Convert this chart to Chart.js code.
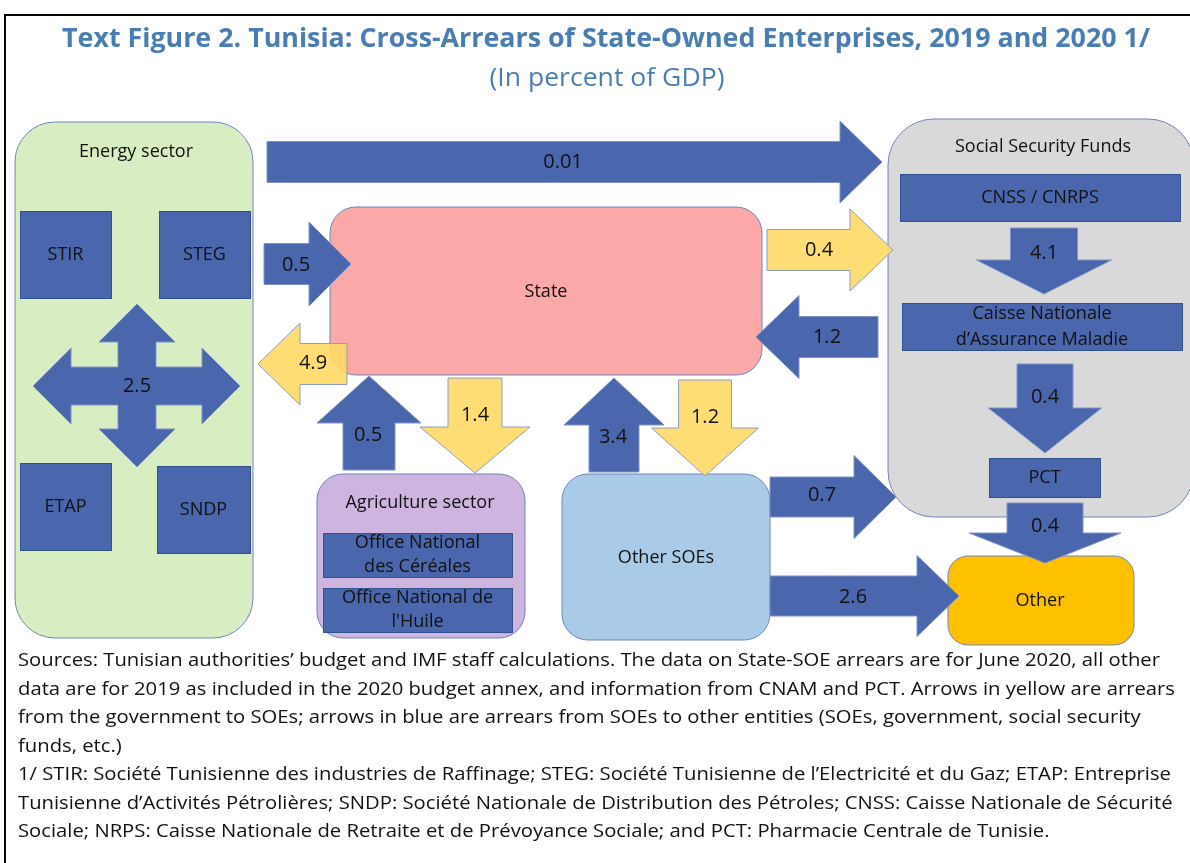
<!DOCTYPE html>
<html>
<head>
<meta charset="utf-8">
<script src="https://cdn.jsdelivr.net/npm/chart.js@4.4.1/dist/chart.umd.min.js"></script>
<style>
  html, body { margin: 0; padding: 0; background: #fff; }
  #wrap { width: 1190px; height: 863px; }
</style>
</head>
<body>
<div id="wrap"><canvas id="flowChart" width="1190" height="863"></canvas></div>
<script>
// ---- data ----
const chartTitle = 'Text Figure 2. Tunisia: Cross-Arrears of State-Owned Enterprises, 2019 and 2020 1/';
const chartSubtitle = '(In percent of GDP)';

const groupNames = ['Energy sector', 'State', 'Social Security Funds', 'Agriculture sector', 'Other SOEs', 'Other'];
const entityNames = ['STIR', 'STEG', 'ETAP', 'SNDP', 'CNSS / CNRPS', 'Caisse Nationale\nd’Assurance Maladie', 'PCT',
    'Office National\ndes Céréales', 'Office National de\nl\'Huile'];

// flows (arrears), in percent of GDP
const flowNames = ['Energy → Social Security', 'Energy → State', 'State → Social Security', 'State → Energy',
    'Social Security → State', 'Agriculture → State', 'State → Agriculture', 'Other SOEs → State',
    'State → Other SOEs', 'Other SOEs → Social Security', 'Other SOEs → Other', 'CNSS/CNRPS → CNAM',
    'CNAM → PCT', 'PCT → Other', 'Within energy sector'];
const flowValues = ['0.01', '0.5', '0.4', '4.9', '1.2', '0.5', '1.4', '3.4', '1.2', '0.7', '2.6', '4.1', '0.4', '0.4', '2.5'];
const flowPayer = ['soe', 'soe', 'gov', 'gov', 'soe', 'soe', 'gov', 'soe', 'gov', 'soe', 'soe', 'soe', 'soe', 'soe', 'soe'];

const noteLines = [
    'Sources: Tunisian authorities’ budget and IMF staff calculations. The data on State-SOE arrears are for June 2020, all other',
    'data are for 2019 as included in the 2020 budget annex, and information from CNAM and PCT. Arrows in yellow are arrears',
    'from the government to SOEs; arrows in blue are arrears from SOEs to other entities (SOEs, government, social security',
    'funds, etc.)',
    '1/ STIR: Société Tunisienne des industries de Raffinage; STEG: Société Tunisienne de l’Electricité et du Gaz; ETAP: Entreprise',
    'Tunisienne d’Activités Pétrolières; SNDP: Société Nationale de Distribution des Pétroles; CNSS: Caisse Nationale de Sécurité',
    'Sociale; NRPS: Caisse Nationale de Retraite et de Prévoyance Sociale; and PCT: Pharmacie Centrale de Tunisie.'
];

// ---- layout (diagram units = pixels of the original figure) ----
const groupBoxes = [
    { x0: 15, y0: 122, x1: 253, y1: 638, r: 40, fill: '#d9edc3', lx: 136, ly: 152 },
    { x0: 330, y0: 207, x1: 762, y1: 375, r: 26, fill: '#faa8a8', lx: 546, ly: 292 },
    { x0: 888, y0: 119, x1: 1194, y1: 517, r: 46, fill: '#d9d9d9', lx: 1043, ly: 147 },
    { x0: 317, y0: 474, x1: 525, y1: 638, r: 26, fill: '#cdb5df', lx: 420, ly: 503 },
    { x0: 562, y0: 474, x1: 770, y1: 640, r: 26, fill: '#a9cbe8', lx: 666, ly: 558 },
    { x0: 948, y0: 556, x1: 1134, y1: 645, r: 20, fill: '#ffc000', lx: 1040, ly: 601 }
];
const entityBoxes = [
    { x0: 20, y0: 211, x1: 111, y1: 298 },
    { x0: 159, y0: 211, x1: 250, y1: 298 },
    { x0: 20, y0: 463, x1: 111, y1: 550 },
    { x0: 157, y0: 466, x1: 250, y1: 553 },
    { x0: 900, y0: 174, x1: 1180, y1: 221 },
    { x0: 902, y0: 303, x1: 1182, y1: 350 },
    { x0: 989, y0: 458, x1: 1100, y1: 497 },
    { x0: 323, y0: 533, x1: 512, y1: 577 },
    { x0: 323, y0: 588, x1: 512, y1: 632 }
];
// tail -> tip, shaft half width, head half width, head length, label position
const arrowShapes = [
    { t: [267, 162], h: [882, 162], sw: 20.5, hw: 41, hl: 42, l: [563, 162] },
    { t: [264, 264], h: [351, 264], sw: 20.5, hw: 42, hl: 42, l: [296, 265] },
    { t: [767, 250], h: [893, 250], sw: 20.5, hw: 41, hl: 43, l: [819, 250] },
    { t: [347, 364], h: [258, 364], sw: 20.5, hw: 41, hl: 42, l: [313, 363] },
    { t: [878, 337], h: [756, 337], sw: 20.5, hw: 41.5, hl: 43, l: [827, 337] },
    { t: [369, 470], h: [369, 376], sw: 26, hw: 52, hl: 47, l: [368, 435] },
    { t: [475, 378], h: [475, 473], sw: 27, hw: 55, hl: 46, l: [475, 415] },
    { t: [614, 472], h: [614, 378], sw: 25, hw: 50, hl: 47, l: [613, 437] },
    { t: [705, 380], h: [705, 476], sw: 26.5, hw: 53.5, hl: 48, l: [705, 417] },
    { t: [770, 497], h: [896, 497], sw: 20, hw: 41.5, hl: 42, l: [822, 495] },
    { t: [770, 596], h: [959, 596], sw: 20, hw: 40.5, hl: 42, l: [853, 597] },
    { t: [1044, 228], h: [1044, 294], sw: 33.5, hw: 67.5, hl: 34, l: [1044, 253] },
    { t: [1045, 364], h: [1045, 453], sw: 28, hw: 56.5, hl: 45, l: [1045, 397] },
    { t: [1045, 503], h: [1045, 563], sw: 38, hw: 76, hl: 30, l: [1045, 526] },
    { cross: [137, 386], up: 82, down: 81, left: 104, right: 103, sw: 19, hw: 38, hl: 38, l: [137, 386] }
];
const noteLayout = { x: 18, y0: 661, step: 28.5, firstWidth: 1142 };

const colors = {
    soe: '#4a66ac', gov: '#ffd966', soeEdge: '#7f93c6', govEdge: '#8c9cc8',
    boxEdge: '#2f528f', groupEdge: '#7085b8', title: '#4a7db2', text: '#111'
};
const FONT = '"Open Sans", "DejaVu Sans", sans-serif';

// draw text with a horizontal scale factor
function scaledText(ctx, s, x, y, k, align) {
    ctx.save();
    ctx.translate(x, y);
    ctx.scale(k, 1);
    ctx.textAlign = align;
    ctx.fillText(s, 0, 0);
    ctx.restore();
}

function roundRect(ctx, x0, y0, x1, y1, r) {
    ctx.beginPath();
    ctx.moveTo(x0 + r, y0);
    ctx.arcTo(x1, y0, x1, y1, r);
    ctx.arcTo(x1, y1, x0, y1, r);
    ctx.arcTo(x0, y1, x0, y0, r);
    ctx.arcTo(x0, y0, x1, y0, r);
    ctx.closePath();
}

const diagramPlugin = {
    id: 'diagram',
    afterDatasetsDraw(chart) {
        const ctx = chart.ctx;
        const sx = chart.scales.x, sy = chart.scales.y;
        const px = v => sx.getPixelForValue(v);
        const py = v => sy.getPixelForValue(v);

        ctx.save();
        // frame
        ctx.strokeStyle = '#000';
        ctx.lineWidth = 2;
        ctx.strokeRect(px(5), py(15), px(1200) - px(5), py(875) - py(15));

        // titles
        ctx.fillStyle = colors.title;
        ctx.textBaseline = 'middle';
        ctx.font = 'bold 27px ' + FONT;
        scaledText(ctx, chartTitle, px(606), py(39), 1088 / ctx.measureText(chartTitle).width, 'center');
        ctx.font = '26px ' + FONT;
        scaledText(ctx, chartSubtitle, px(607), py(79), 235 / ctx.measureText(chartSubtitle).width, 'center');

        // group containers
        groupBoxes.forEach(b => {
            roundRect(ctx, px(b.x0), py(b.y0), px(b.x1), py(b.y1), b.r);
            ctx.fillStyle = b.fill;
            ctx.fill();
            ctx.strokeStyle = colors.groupEdge;
            ctx.lineWidth = 1;
            ctx.stroke();
        });

        // entities
        entityBoxes.forEach(b => {
            ctx.fillStyle = colors.soe;
            ctx.fillRect(px(b.x0), py(b.y0), px(b.x1) - px(b.x0), py(b.y1) - py(b.y0));
            ctx.strokeStyle = colors.boxEdge;
            ctx.lineWidth = 1;
            ctx.strokeRect(px(b.x0) + 0.5, py(b.y0) + 0.5, px(b.x1) - px(b.x0), py(b.y1) - py(b.y0));
        });

        // arrows
        arrowShapes.forEach((a, i) => {
            const pts = [];
            if (a.cross) {
                const [cx, cy] = a.cross, s = a.sw, w = a.hw, l = a.hl;
                const T = cy - a.up, B = cy + a.down, L = cx - a.left, R = cx + a.right;
                pts.push([cx, T], [cx + w, T + l], [cx + s, T + l], [cx + s, cy - s], [R - l, cy - s], [R - l, cy - w],
                    [R, cy], [R - l, cy + w], [R - l, cy + s], [cx + s, cy + s], [cx + s, B - l], [cx + w, B - l],
                    [cx, B], [cx - w, B - l], [cx - s, B - l], [cx - s, cy + s], [L + l, cy + s], [L + l, cy + w],
                    [L, cy], [L + l, cy - w], [L + l, cy - s], [cx - s, cy - s], [cx - s, T + l], [cx - w, T + l]);
            } else {
                const [tx, ty] = a.t, [hx, hy] = a.h;
                const len = Math.hypot(hx - tx, hy - ty);
                const ux = (hx - tx) / len, uy = (hy - ty) / len;
                const nx = -uy, ny = ux;
                const bx = hx - ux * a.hl, by = hy - uy * a.hl;
                pts.push([tx + nx * a.sw, ty + ny * a.sw], [bx + nx * a.sw, by + ny * a.sw], [bx + nx * a.hw, by + ny * a.hw],
                    [hx, hy], [bx - nx * a.hw, by - ny * a.hw], [bx - nx * a.sw, by - ny * a.sw], [tx - nx * a.sw, ty - ny * a.sw]);
            }
            ctx.beginPath();
            pts.forEach((p, k) => k ? ctx.lineTo(px(p[0]), py(p[1])) : ctx.moveTo(px(p[0]), py(p[1])));
            ctx.closePath();
            const gov = flowPayer[i] === 'gov';
            ctx.globalAlpha = gov ? 0.9 : 1;
            ctx.fillStyle = gov ? colors.gov : colors.soe;
            ctx.fill();
            ctx.globalAlpha = 1;
            ctx.strokeStyle = gov ? colors.govEdge : colors.soeEdge;
            ctx.lineWidth = 1;
            ctx.stroke();
        });

        // labels
        ctx.fillStyle = colors.text;
        ctx.textAlign = 'center';
        ctx.textBaseline = 'middle';
        ctx.font = '19px ' + FONT;
        groupBoxes.forEach((b, i) => scaledText(ctx, groupNames[i], px(b.lx), py(b.ly), 0.95, 'center'));
        entityBoxes.forEach((b, i) => {
            const lines = entityNames[i].split('\n');
            const cx = (b.x0 + b.x1) / 2, cy = (b.y0 + b.y1) / 2;
            const step = lines.length > 1 ? (b.y1 - b.y0) / 2 + 2 : 0;
            lines.forEach((s, k) => scaledText(ctx, s, px(cx), py(cy + (k - (lines.length - 1) / 2) * step), 0.95, 'center'));
        });
        ctx.font = '20px ' + FONT;
        arrowShapes.forEach((a, i) => ctx.fillText(flowValues[i], px(a.l[0]), py(a.l[1])));

        // notes, one common squeeze for all lines
        ctx.font = '19px ' + FONT;
        const k = noteLayout.firstWidth / ctx.measureText(noteLines[0]).width;
        noteLines.forEach((s, i) => scaledText(ctx, s, px(noteLayout.x), py(noteLayout.y0 + i * noteLayout.step), k, 'left'));
        ctx.restore();
    }
};

new Chart(document.getElementById('flowChart'), {
    type: 'scatter',
    data: { datasets: [{ label: 'arrears', data: [], pointRadius: 0 }] },
    options: {
        responsive: false,
        animation: false,
        layout: { padding: 0 },
        plugins: { legend: { display: false }, tooltip: { enabled: false } },
        scales: {
            x: { type: 'linear', min: 0, max: 1190, display: false },
            y: { type: 'linear', min: 0, max: 863, reverse: true, display: false }
        }
    },
    plugins: [diagramPlugin]
});
</script>
</body>
</html>
